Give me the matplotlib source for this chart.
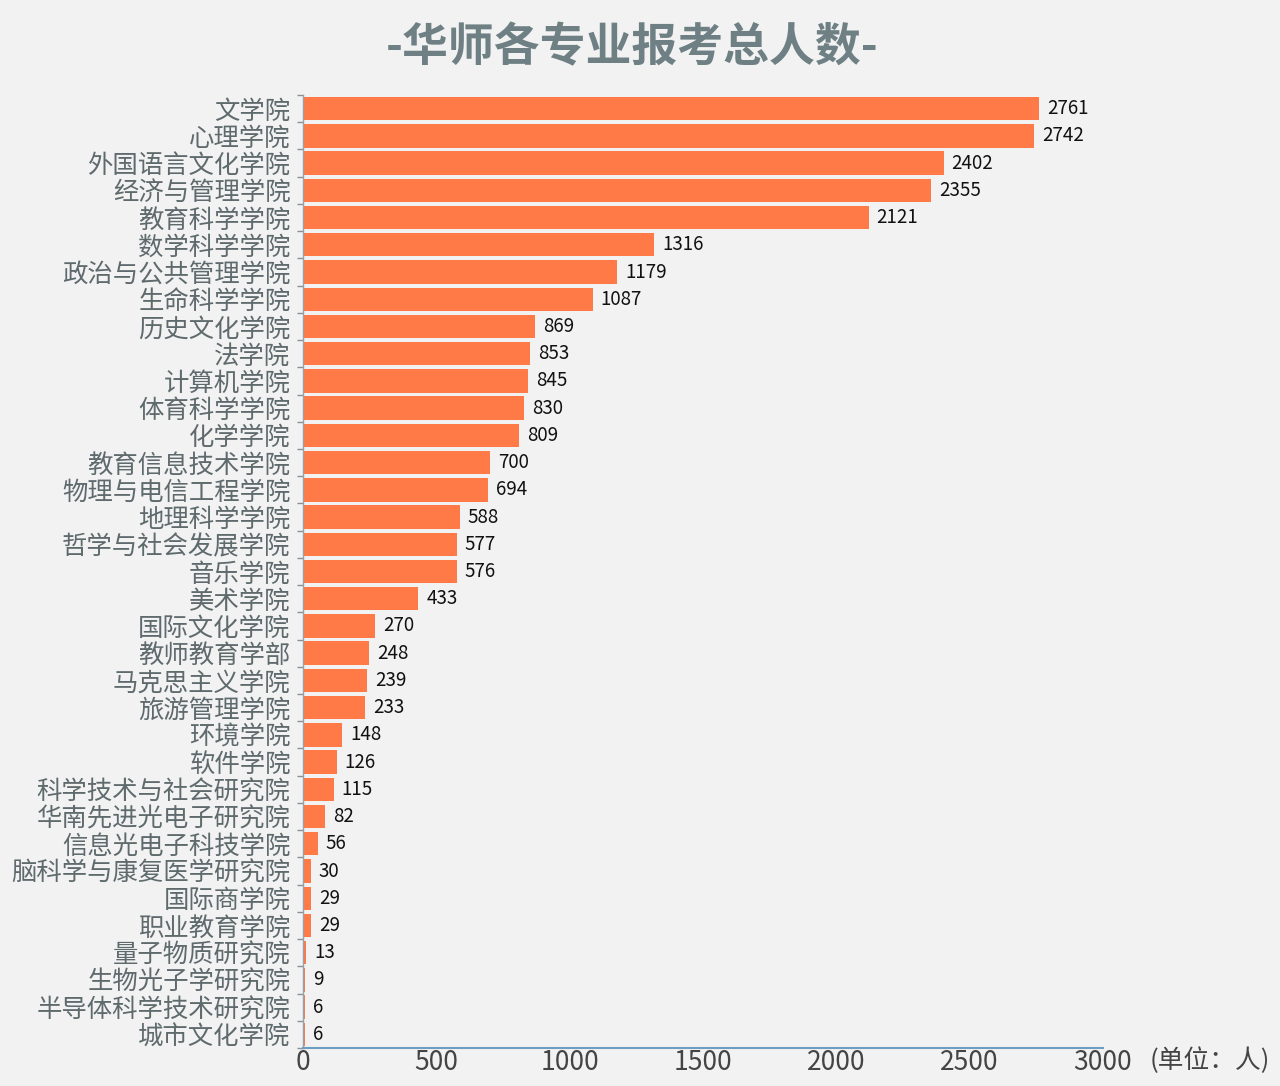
import matplotlib
matplotlib.use('Agg')
import numpy as np
from matplotlib import pyplot as plt

plt.rcParams['font.family'] = ['Noto Sans CJK SC', 'DejaVu Sans']

colleges = ['文学院', '心理学院', '外国语言文化学院', '经济与管理学院', '教育科学学院',
            '数学科学学院', '政治与公共管理学院', '生命科学学院', '历史文化学院', '法学院',
            '计算机学院', '体育科学学院', '化学学院', '教育信息技术学院', '物理与电信工程学院',
            '地理科学学院', '哲学与社会发展学院', '音乐学院', '美术学院', '国际文化学院',
            '教师教育学部', '马克思主义学院', '旅游管理学院', '环境学院', '软件学院',
            '科学技术与社会研究院', '华南先进光电子研究院', '信息光电子科技学院',
            '脑科学与康复医学研究院', '国际商学院', '职业教育学院', '量子物质研究院',
            '生物光子学研究院', '半导体科学技术研究院', '城市文化学院']
counts = [2761, 2742, 2402, 2355, 2121, 1316, 1179, 1087, 869, 853,
          845, 830, 809, 700, 694, 588, 577, 576, 433, 270,
          248, 239, 233, 148, 126, 115, 82, 56, 30, 29,
          29, 13, 9, 6, 6]
xticks = [0, 500, 1000, 1500, 2000, 2500, 3000]

bg = '#f2f2f2'
fig = plt.figure(figsize=(12.8, 10.86), dpi=100, facecolor=bg)
ax = fig.add_axes([0.2367, 0.035, 0.625, 0.8775])
ax.set_facecolor(bg)

y = np.arange(len(colleges))
ax.barh(y, counts, height=0.86, color='#ff7a47')
ax.set_ylim(len(colleges) - 0.5, -0.5)
ax.set_xlim(0, 3000)

for yi, v in zip(y, counts):
    ax.text(v + 30, yi, str(v), va='center', ha='left', fontsize=13.5,
            color='#111111')

ax.set_yticks(y)
ax.set_yticklabels(colleges, fontsize=18.3, color='#5f6a6d')
ax.tick_params(axis='y', which='major', length=0, pad=9)
ax.set_yticks(np.arange(len(colleges) + 1) - 0.5, minor=True)
ax.tick_params(axis='y', which='minor', length=4, width=1, color='#8a8f95')

ax.set_xticks(xticks)
ax.set_xticklabels([str(t) for t in xticks], fontsize=19, color='#444444')
ax.tick_params(axis='x', length=0, pad=1)

for s in ['top', 'right']:
    ax.spines[s].set_visible(False)
ax.spines['left'].set_color('#9aa0a6')
ax.spines['left'].set_linewidth(1)
ax.spines['bottom'].set_color('#6f9cc2')
ax.spines['bottom'].set_linewidth(1.5)

fig.text(0.898, 0.0235, '(单位：人)', fontsize=18.5, color='#444444', ha='left', va='center')
fig.text(0.494, 0.956, '-华师各专业报考总人数-', fontsize=33, fontweight='heavy',
         color='#6f8085', ha='center', va='center')

fig.savefig('out.png', dpi=100, facecolor=bg)
